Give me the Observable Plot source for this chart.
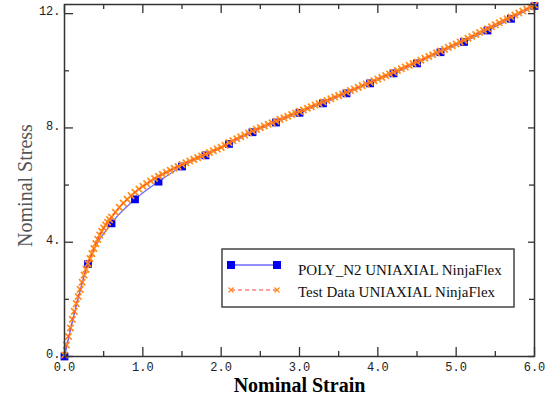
<!DOCTYPE html>
<html><head><meta charset="utf-8">
<script src="https://cdn.jsdelivr.net/npm/d3@7"></script>
<script src="https://cdn.jsdelivr.net/npm/@observablehq/plot@0.6"></script>
<style>body{margin:0;background:#fff}#chart{position:relative;width:558px;height:401px}</style>
</head><body><div id="chart"></div>
<script>
// POLY_N2 fit (markers)
const fitStrain = [0,0.3,0.6,0.9,1.2,1.5,1.8,2.1,2.4,2.7,3.0,3.3,3.6,3.9,4.2,4.5,4.8,5.1,5.4,5.7,6.0];
const fitStress = [0,3.24,4.66,5.50,6.12,6.65,7.04,7.44,7.85,8.19,8.53,8.86,9.21,9.56,9.91,10.26,10.65,11.01,11.41,11.82,12.27];
// Test data
const testStrain = [0,0.025,0.05,0.075,0.1,0.125,0.15,0.175,0.2,0.225,0.25,0.275,0.3,0.325,0.35,0.375,0.4,0.425,0.45,0.475,0.5,0.525,0.55,0.575,
  0.6,0.65,0.7,0.75,0.8,0.85,0.9,0.95,
  1.0,1.05,1.1,1.15,1.2,1.25,1.3,1.35,1.4,1.45,1.5,1.55,1.6,1.65,1.7,1.75,1.8,1.85,1.9,1.95,
  2.0,2.05,2.1,2.15,2.2,2.25,2.3,2.35,2.4,2.45,2.5,2.55,2.6,2.65,2.7,2.75,2.8,2.85,2.9,2.95,
  3.0,3.05,3.1,3.15,3.2,3.25,3.3,3.35,3.4,3.45,3.5,3.55,3.6,3.65,3.7,3.75,3.8,3.85,3.9,3.95,
  4.0,4.05,4.1,4.15,4.2,4.25,4.3,4.35,4.4,4.45,4.5,4.55,4.6,4.65,4.7,4.75,4.8,4.85,4.9,4.95,
  5.0,5.05,5.1,5.15,5.2,5.25,5.3,5.35,5.4,5.45,5.5,5.55,5.6,5.65,5.7,5.75,5.8,5.85,5.9,5.95,6.0];
const testStress = [0.05,0.4,0.7,1.0,1.3,1.58,1.85,2.1,2.35,2.6,2.85,3.05,3.25,3.43,3.6,3.78,3.95,4.1,4.25,4.38,4.5,4.6,4.7,4.79,
  4.88,5.05,5.22,5.37,5.5,5.63,5.75,5.86,
  5.96,6.05,6.14,6.23,6.31,6.38,6.45,6.52,6.59,6.65,6.72,6.78,6.84,6.9,6.96,7.02,7.08,7.14,7.2,7.26,
  7.32,7.39,7.48,7.55,7.62,7.69,7.75,7.82,7.89,7.95,8.01,8.07,8.13,8.18,8.24,8.30,8.35,8.41,8.47,8.52,
  8.58,8.63,8.69,8.74,8.80,8.85,8.91,8.96,9.02,9.08,9.13,9.19,9.25,9.31,9.36,9.42,9.48,9.54,9.60,9.65,
  9.71,9.77,9.83,9.89,9.95,10.01,10.07,10.13,10.19,10.25,10.31,10.37,10.44,10.50,10.56,10.63,10.69,10.75,10.82,10.88,
  10.94,11.01,11.07,11.14,11.20,11.27,11.34,11.41,11.47,11.54,11.61,11.68,11.75,11.82,11.88,11.95,12.02,12.09,12.16,12.23,12.30];
const xMajor = [0,1,2,3,4,5,6];
const xMinor = [0.5,1.5,2.5,3.5,4.5,5.5];
const yMajor = [0,4,8,12];
const yMinor = [2,6,10];
const seriesNames = ["POLY_N2 UNIAXIAL NinjaFlex", "Test Data UNIAXIAL NinjaFlex"];
const xTitle = "Nominal Strain";
const yTitle = "Nominal Stress";

const fit = fitStrain.map((x, i) => ({x, y: fitStress[i]}));
const test = testStrain.map((x, i) => ({x, y: testStress[i]}));

const W = 558, H = 401, mL = 64, mR = 24, mT = 4, mB = 45;
const iW = W - mL - mR, iH = H - mT - mB;
const blue = "#0000ee", blueLine = "#6b6bff", orange = "#ff8c1a", red = "#ff4040";

const chart = Plot.plot({
  width: W, height: H,
  marginLeft: mL, marginRight: mR, marginTop: mT, marginBottom: mB,
  style: {background: "#fff"},
  x: {domain: [0, 6]},
  y: {domain: [0, 12.32]},
  marks: [
    Plot.line(fit, {x: "x", y: "y", stroke: blueLine, strokeWidth: 1.3, curve: "monotone-x"}),
    Plot.dot(fit, {x: "x", y: "y", symbol: "square", r: 4.4, fill: blue, stroke: "none"}),
    Plot.dot(test, {x: "x", y: "y", symbol: "times", r: 3, stroke: orange, strokeWidth: 1.7}),
    Plot.line(test, {x: "x", y: "y", stroke: red, strokeWidth: 1, strokeDasharray: "3,3", curve: "monotone-x"}),
    Plot.frame({stroke: "#333", strokeWidth: 1.5}),
    // inward ticks
    Plot.tickX(xMajor, {x: d => d, insetTop: iH - 9, stroke: "#333", strokeWidth: 1.3}),
    Plot.tickX(xMinor, {x: d => d, insetTop: iH - 5, stroke: "#333", strokeWidth: 1.3}),
    Plot.tickX(xMajor, {x: d => d, insetBottom: iH - 9, stroke: "#333", strokeWidth: 1.3}),
    Plot.tickX(xMinor, {x: d => d, insetBottom: iH - 5, stroke: "#333", strokeWidth: 1.3}),
    Plot.tickY(yMajor, {y: d => d, insetRight: iW - 9, stroke: "#333", strokeWidth: 1.3}),
    Plot.tickY(yMinor, {y: d => d, insetRight: iW - 5, stroke: "#333", strokeWidth: 1.3}),
    Plot.tickY(yMajor, {y: d => d, insetLeft: iW - 6, stroke: "#333", strokeWidth: 1.3}),
    Plot.tickY(yMinor, {y: d => d, insetLeft: iW - 5, stroke: "#333", strokeWidth: 1.3}),
    Plot.axisX(xMajor, {anchor: "bottom", tickSize: 0, tickPadding: 6, tickFormat: d3.format(".1f"), label: null,
      fontFamily: "Liberation Mono", fontSize: 12, fill: "#222"}),
    Plot.axisY(yMajor, {anchor: "left", tickSize: 0, tickPadding: 4, tickFormat: d => d + ".", label: null,
      fontFamily: "Liberation Mono", fontSize: 12, fill: "#222", dy: -2}),
    Plot.text([xTitle], {frameAnchor: "bottom", textAnchor: "middle", lineAnchor: "middle", dy: 29.5, text: d => d,
      fontFamily: "Liberation Serif", fontWeight: "bold", fontSize: 20, fill: "#000"}),
    Plot.text([yTitle], {frameAnchor: "left", textAnchor: "middle", lineAnchor: "middle", dx: -39, dy: 5, rotate: -90,
      text: d => d, fontFamily: "Liberation Serif", fontSize: 20, fill: "#555"})
  ]
});
document.getElementById("chart").appendChild(chart);

// Legend box
const svg = d3.select(chart);
const lg = svg.append("g");
lg.append("rect").attr("x", 222).attr("y", 249).attr("width", 292).attr("height", 58)
  .attr("fill", "#fff").attr("stroke", "#444").attr("stroke-width", 1.5);
// row 1
lg.append("line").attr("x1", 231).attr("x2", 277).attr("y1", 265).attr("y2", 265).attr("stroke", blueLine).attr("stroke-width", 1.5);
[231, 277].forEach(x => lg.append("rect").attr("x", x - 4).attr("y", 261).attr("width", 8).attr("height", 8).attr("fill", blue));
// row 2
lg.append("line").attr("x1", 231).attr("x2", 277).attr("y1", 290).attr("y2", 290).attr("stroke", red)
  .attr("stroke-width", 1).attr("stroke-dasharray", "4,3");
[231, 277].forEach(x => lg.append("path").attr("d", `M${x-2.5},${290-2.5}L${x+2.5},${290+2.5}M${x-2.5},${290+2.5}L${x+2.5},${290-2.5}`)
  .attr("stroke", orange).attr("stroke-width", 1.3));
seriesNames.forEach((t, i) => lg.append("text").attr("x", 298).attr("y", 275 + i * 22)
  .attr("text-anchor", "start").attr("font-family", "Liberation Serif").attr("font-size", 15).attr("fill", "#111").text(t));
</script>
</body></html>
